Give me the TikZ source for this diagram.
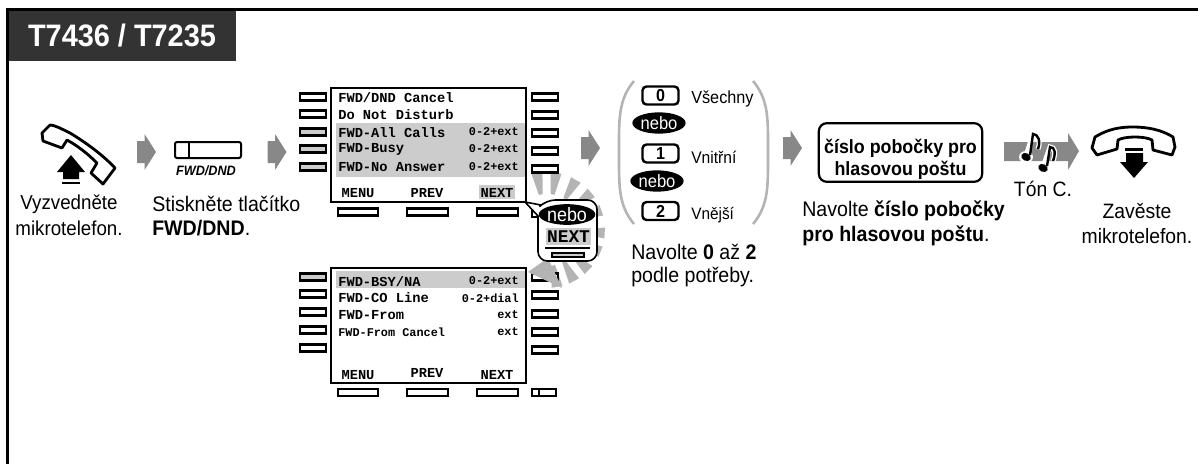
\documentclass[tikz,border=0pt]{standalone}
\usepackage{fontspec}
\setmainfont[FakeStretch=0.93]{Liberation Sans}
\setmonofont{Liberation Mono}
\usetikzlibrary{shapes.geometric}
\definecolor{arrowgrey}{HTML}{888888}
\definecolor{rowgrey}{HTML}{CCCCCC}
\definecolor{raygrey}{HTML}{B4B4B4}
\definecolor{titlegrey}{HTML}{333333}
\newcommand{\fs}[1]{\fontsize{#1}{#1}\selectfont}
\tikzset{
  px/.style={line width=#1*0.75pt},
  keybox/.style={draw=black,px=2.4,fill=white},
  shadedkey/.style={draw=black,px=2.4,fill=rowgrey},
  screen/.style={draw=black,px=2.8,fill=white},
  body/.style={font=\fs{15.8},align=left,inner sep=0pt},
  bodyc/.style={font=\fs{15.1},align=center,inner sep=0pt},
  bodyw/.style={font=\fs{15.6},align=center,inner sep=0pt},
  rowtxt/.style={font=\fs{10.3}\ttfamily\bfseries,anchor=west,inner sep=0pt},
  rowsm/.style={font=\fs{8.9}\ttfamily\bfseries,inner sep=0pt},
  softtxt/.style={font=\fs{10.3}\ttfamily\bfseries,inner sep=0pt},
  digitkey/.style={draw=black,px=2.4,rounded corners=3pt,minimum width=27pt,minimum height=13.5pt,inner sep=0pt,font=\fs{13}\bfseries},
  nebo/.style={ellipse,fill=black,text=white,inner sep=0pt,minimum width=40pt,minimum height=16pt,font=\fs{13.4}},
  handset/.style={draw=black,px=2.8,line join=round,fill=white},
  bigarrow/.style={fill=arrowgrey,draw=none},
}
\newcommand{\flowarrow}[2]{\fill[bigarrow] (#1,#2-11) -- (#1+7.5,#2-11) -- (#1+7.5,#2-18) -- (#1+19,#2) -- (#1+7.5,#2+18) -- (#1+7.5,#2+11) -- (#1,#2+11) -- cycle;}
\begin{document}
\begin{tikzpicture}[x=0.75pt,y=-0.75pt]
\useasboundingbox (0,0) rectangle (1198,464);
% frame and title
\draw[px=3] (7.5,464) -- (7.5,9.5) -- (1198,9.5);
\node[fill=titlegrey,minimum width=170.5pt,minimum height=37.5pt,inner sep=0pt,anchor=north west] (title) at (8.5,10.5) {};
\node[text=white,font=\fs{23.3}\bfseries,inner sep=0pt] (titletext) at (122,36) {T7436 / T7235};
% handset up
\draw[handset] (50,125) .. controls (54,125) and (60,128) .. (70,133) .. controls (85,142) and (103,155) .. (115,168) -- (103,184) -- (91,173) -- (97,163) .. controls (88,154) and (78,146) .. (67,140) -- (62,148) -- (43,141) -- (42,133) -- cycle;
\fill (71,155) -- (85,172) -- (79,172) -- (79,179) -- (63,179) -- (63,172) -- (57,172) -- cycle;
\fill (62,181.5) rectangle (80,184);
\flowarrow{137}{152}
% FWD/DND key
\draw[px=2,rounded corners=1.5pt] (175,142) rectangle (241,158);
\draw[px=2] (189,142) -- (189,158);
\node[font=\fs{10.2}\bfseries\itshape,inner sep=0pt] (fwdkey) at (206,171) {FWD/DND};
\flowarrow{267.5}{152}
% captions left
\node[bodyc] (cap1a) at (69,204) {Vyzvedněte};
\node[bodyc] (cap1b) at (69,228) {mikrotelefon.};
\node[body,anchor=west] (cap2a) at (152,204) {Stiskněte tlačítko};
\node[body,anchor=west] (cap2b) at (152,228) {\textbf{FWD/DND}.};
% rays behind the callout
\foreach \a in {-100,-81,-60,-40,-20,3,22,44,62,80}
  \fill[raygrey] ([shift={(547,230)}]\a-3:36) -- ([shift={(547,230)}]\a+3:36) -- ([shift={(547,230)}]\a+5.5:58) -- ([shift={(547,230)}]\a-5.5:58) -- cycle;
% first screen keys
\foreach \y in {97,114} \draw[keybox] (300,\y-3.5) rectangle (326,\y+3.5);
\foreach \y in {132,149,167} \draw[shadedkey] (300,\y-3.5) rectangle (326,\y+3.5);
\foreach \y in {97,115,133,151,169} \draw[keybox] (532,\y-3.5) rectangle (558,\y+3.5);
\foreach \x/\w in {338/40,407/41,477/41} \draw[keybox] (\x,208.5) rectangle (\x+\w,215.5);
\draw[keybox] (532,209) rectangle (556,217);
% first screen
\draw[screen] (331,88) rectangle (526,202);
\fill[rowgrey] (336,123) rectangle (525,177);
\fill[rowgrey] (479,185) rectangle (515,199);
\node[rowtxt] (r1) at (338,98) {FWD/DND Cancel};
\node[rowtxt] (r2) at (338,115) {Do Not Disturb};
\node[rowtxt] (r3) at (338,132.5) {FWD-All Calls};
\node[rowtxt] (r4) at (338,149) {FWD-Busy};
\node[rowtxt] (r5) at (338,167) {FWD-No Answer};
\node[rowsm,anchor=east] (r3r) at (519,132) {0-2+ext};
\node[rowsm,anchor=east] (r4r) at (519,149) {0-2+ext};
\node[rowsm,anchor=east] (r5r) at (519,166.5) {0-2+ext};
\node[softtxt] (s1) at (358,193) {MENU};
\node[softtxt] (s2) at (427,193) {PREV};
\node[softtxt] (s3) at (497,192.5) {NEXT};
\flowarrow{581}{148}
% second screen keys
\draw[shadedkey] (300,273.5) rectangle (326,280.5);
\foreach \y in {294,312,330,348} \draw[keybox] (300,\y-3.5) rectangle (326,\y+3.5);
\foreach \y in {277,295,314,332,350} \draw[keybox] (532,\y-3.5) rectangle (558,\y+3.5);
\foreach \x/\w in {338/40,407/41,477/41} \draw[keybox] (\x,389) rectangle (\x+\w,396);
\draw[keybox] (532,389) rectangle (556,396);
\draw[px=2] (539,389) -- (539,396);
% second screen
\draw[screen] (331,268) rectangle (526,383);
\fill[rowgrey] (336,271) rectangle (525,288);
\node[rowtxt] (t1) at (338,282) {FWD-BSY/NA};
\node[rowtxt] (t2) at (338,298) {FWD-CO Line};
\node[rowtxt] (t3) at (338,315) {FWD-From};
\node[rowsm,anchor=west] (t4) at (338,332) {FWD-From Cancel};
\node[rowsm,anchor=east] (t1r) at (519,281) {0-2+ext};
\node[rowsm,anchor=east] (t2r) at (519,298) {0-2+dial};
\node[rowsm,anchor=east] (t3r) at (519,315) {ext};
\node[rowsm,anchor=east] (t4r) at (519,332) {ext};
\node[softtxt] (u1) at (358,375) {MENU};
\node[softtxt] (u2) at (427,373) {PREV};
\node[softtxt] (u3) at (497,375) {NEXT};
% wedge between callout and second screen
\fill[raygrey] (528,272) -- (562,288) -- (548,258) -- cycle;
% callout
\draw[draw=black,px=1.6,fill=white] (525,202) -- (538,216) [rounded corners=7pt] -- (538,261) -- (597,261) -- (597,200) -- (546,200) [sharp corners] -- (541,205) -- cycle;
\node[nebo,minimum width=41pt,minimum height=15.5pt,font=\fs{14.5}] (nebo0) at (567,214.5) {nebo};
\fill[rowgrey] (546,228) rectangle (591,245);
\node[font=\fs{13.4}\ttfamily\bfseries,inner sep=0pt] (calnext) at (568.5,237) {NEXT};
\draw[px=1.4] (545,248) -- (590,248);
\draw[draw=black,px=1.6,fill=rowgrey] (552,253) rectangle (584,257);
% bracket choices
\draw[draw=raygrey,px=2.6] (634,81) .. controls (618,100) and (619,120) .. (619,152) .. controls (619,185) and (618,205) .. (634,224);
\draw[draw=raygrey,px=2.6] (753,81) .. controls (769,100) and (768,120) .. (768,152) .. controls (768,185) and (769,205) .. (753,224);
\node[digitkey] (k0) at (660.5,95.5) {0};
\node[digitkey] (k1) at (660.5,153.5) {1};
\node[digitkey] (k2) at (660.5,211) {2};
\node[font=\fs{13.1},anchor=west,inner sep=0pt] (l0) at (691,99) {Všechny};
\node[font=\fs{12.6},anchor=west,inner sep=0pt] (l1) at (691,157) {Vnitřní};
\node[font=\fs{12.4},anchor=west,inner sep=0pt] (l2) at (691,215) {Vnější};
\node[nebo] (nebo1) at (659,123) {nebo};
\node[nebo] (nebo2) at (657,181) {nebo};
\node[body,anchor=west] (cap3a) at (631,252) {Navolte \textbf{0} až \textbf{2}};
\node[body,anchor=west] (cap3b) at (631,277) {podle potřeby.};
\flowarrow{783}{148}
% number box
\node[draw=black,px=2.2,rounded corners=6pt,minimum width=122.5pt,minimum height=44pt,inner sep=0pt,align=center,font=\fs{14.4}\bfseries,text depth=0pt] (numbox) at (900.5,152.5) {\begin{tabular}{@{}c@{}}číslo pobočky pro\\[1.5pt]hlasovou poštu\end{tabular}};
\node[body,anchor=west] (cap4a) at (802,211) {Navolte \textbf{číslo pobočky}};
\node[body,anchor=west] (cap4b) at (802,236) {\textbf{pro hlasovou poštu}.};
% tone arrow
\fill[arrowgrey] (1004,142) -- (1068,142) -- (1068,133) -- (1079,151) -- (1068,170) -- (1068,161) -- (1004,161) -- cycle;
\draw[draw=white,px=5] (1026,156) -- (1033,134) .. controls (1038,134) and (1041,141) .. (1038,149);
\draw[draw=white,px=5] (1043,167) -- (1050,147) .. controls (1055,147) and (1056,153) .. (1053,161);
\fill[white] (1026,157) ellipse [x radius=7,y radius=6];
\fill[white] (1043,168) ellipse [x radius=7,y radius=6];
\draw[px=2.4] (1030,155) -- (1033,134) .. controls (1038,134) and (1041,141) .. (1038,149);
\draw[px=2.4] (1047,166) -- (1050,147) .. controls (1055,147) and (1056,153) .. (1053,161);
\fill[rotate around={-25:(1026,157)}] (1026,157) ellipse [x radius=5,y radius=3.8];
\fill[rotate around={-25:(1043,168)}] (1043,168) ellipse [x radius=5,y radius=3.8];
\node[bodyw] (tone) at (1043,189) {Tón C.};
% handset down
\draw[handset] (1095,137) .. controls (1108,129) and (1120,127) .. (1133,127) .. controls (1148,127) and (1162,130) .. (1173,137) -- (1175,147) -- (1172,155) -- (1153,150) -- (1152,140) .. controls (1145,136) and (1125,136) .. (1118,140) -- (1117,149) -- (1097,155) -- (1092,148) -- cycle;
\fill (1125,148) rectangle (1143,151);
\fill (1126,153) -- (1143,153) -- (1143,162) -- (1148,162) -- (1134,178) -- (1120,162) -- (1126,162) -- cycle;
\node[bodyw] (cap5a) at (1137,211) {Zavěste};
\node[bodyw] (cap5b) at (1137,236) {mikrotelefon.};
\end{tikzpicture}
\end{document}
